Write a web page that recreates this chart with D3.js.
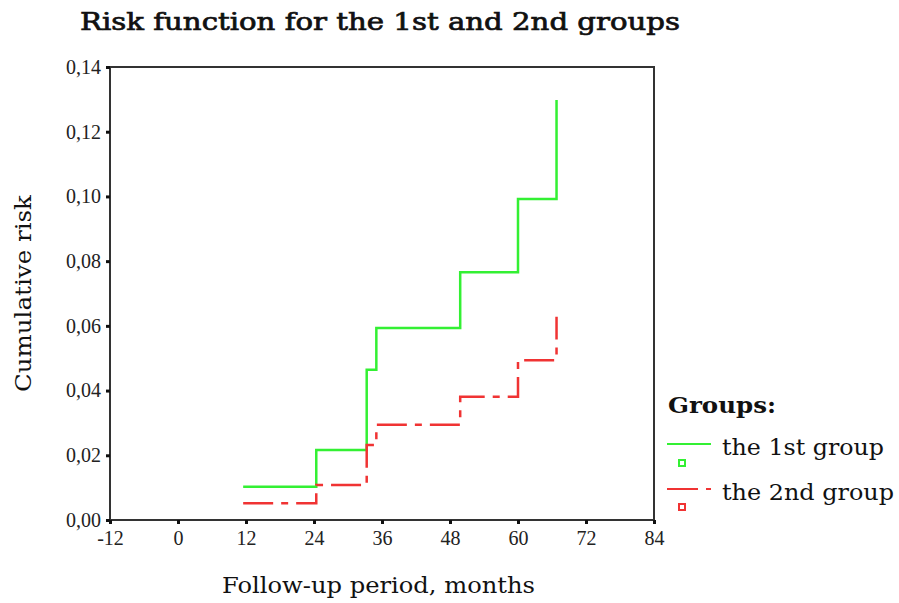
<!DOCTYPE html>
<html>
<head>
<meta charset="utf-8">
<script src="https://cdn.jsdelivr.net/npm/d3@7"></script>
<style>
  body { margin: 0; background: #fff; }
  svg { display: block; }
</style>
</head>
<body>
<svg id="chart" width="899" height="603"></svg>
<script>
// Data
const group1Times = [11.5, 24.4, 33.3, 35, 49.8, 60, 66.8];
const group1Risk  = [0.0103, 0.0216, 0.0464, 0.0593, 0.0766, 0.0992, 0.1298];
const group2Times = [11.5, 24.4, 33.3, 35, 49.8, 60, 66.8];
const group2Risk  = [0.0052, 0.0108, 0.0232, 0.0294, 0.0381, 0.0494, 0.0628];
const xTicks = [-12, 0, 12, 24, 36, 48, 60, 72, 84];
const yTicks = [0, 0.02, 0.04, 0.06, 0.08, 0.10, 0.12, 0.14];
const seriesNames = ["the 1st group", "the 2nd group"];
const seriesColors = ["#33f033", "#f03333"];

const svg = d3.select("#chart");
const pLeft = 110, pRight = 654, pTop = 67, pBottom = 520;

const x = d3.scaleLinear().domain([-12, 84]).range([pLeft, pRight]);
const y = d3.scaleLinear().domain([0, 0.14]).range([pBottom, pTop]);

const serif = "'DejaVu Serif', serif";
const tickFont = "'Liberation Serif', serif";

// Title
svg.append("text").attr("x", 80).attr("y", 30)
  .attr("font-family", serif).attr("font-size", 24)
  .attr("fill", "#111").attr("stroke", "#111").attr("stroke-width", 0.7)
  .attr("textLength", 600).attr("lengthAdjust", "spacingAndGlyphs")
  .text("Risk function for the 1st and 2nd groups");

// Frame
svg.append("path")
  .attr("d", `M${pLeft},${pBottom}V${pTop}H${pRight}V${pBottom}H${pLeft}`)
  .attr("fill", "none").attr("stroke", "#333").attr("stroke-width", 2);

// Axes
const xAxis = d3.axisBottom(x).tickValues(xTicks).tickSize(4).tickPadding(7)
  .tickFormat(d => String(d));
const gx = svg.append("g").attr("transform", `translate(0,${pBottom})`).call(xAxis);
gx.select(".domain").remove();
gx.selectAll(".tick line").attr("stroke", "#111").attr("stroke-width", 3);
gx.selectAll(".tick text").attr("font-family", tickFont).attr("font-size", 20)
  .attr("fill", "#222");

const yAxis = d3.axisLeft(y).tickValues(yTicks).tickSize(4).tickPadding(5)
  .tickFormat(d => d3.format(".2f")(d).replace(".", ","));
const gy = svg.append("g").attr("transform", `translate(${pLeft},0)`).call(yAxis);
gy.select(".domain").remove();
gy.selectAll(".tick line").attr("stroke", "#111").attr("stroke-width", 3);
gy.selectAll(".tick text").attr("font-family", tickFont).attr("font-size", 20)
  .attr("fill", "#222");

// Axis labels
svg.append("text").attr("x", 222).attr("y", 593)
  .attr("font-family", serif).attr("font-size", 22).attr("fill", "#111")
  .attr("textLength", 313).attr("lengthAdjust", "spacingAndGlyphs")
  .text("Follow-up period, months");
svg.append("text").attr("transform", "translate(31,392) rotate(-90)")
  .attr("font-family", serif).attr("font-size", 22).attr("fill", "#111")
  .attr("textLength", 197).attr("lengthAdjust", "spacingAndGlyphs")
  .text("Cumulative risk");

// Lines
const line = d3.line().x(d => x(d[0])).y(d => y(d[1])).curve(d3.curveStepAfter);
const s1 = group1Times.map((t, i) => [t, group1Risk[i]]);
const s2 = group2Times.map((t, i) => [t, group2Risk[i]]);

svg.append("path").datum(s1).attr("d", line)
  .attr("fill", "none").attr("stroke", seriesColors[0]).attr("stroke-width", 2.5);
svg.append("path").datum(s2).attr("d", line)
  .attr("fill", "none").attr("stroke", seriesColors[1]).attr("stroke-width", 2.5)
  .attr("stroke-dasharray", "30,8,7,8");

// Legend
svg.append("text").attr("x", 668).attr("y", 413)
  .attr("font-family", serif).attr("font-size", 22).attr("font-weight", "bold")
  .attr("fill", "#111")
  .attr("textLength", 108).attr("lengthAdjust", "spacingAndGlyphs")
  .text("Groups:");

const legY = [444, 489];
const sqY = [463, 507];
seriesNames.forEach((name, i) => {
  svg.append("line").attr("x1", 667).attr("x2", 711).attr("y1", legY[i]).attr("y2", legY[i])
    .attr("stroke", seriesColors[i]).attr("stroke-width", 2)
    .attr("stroke-dasharray", i === 1 ? "31,8,5,8" : null);
  svg.append("rect").attr("x", 679).attr("y", sqY[i] - 3).attr("width", 6).attr("height", 6)
    .attr("fill", "none").attr("stroke", seriesColors[i]).attr("stroke-width", 2);
  svg.append("text").attr("x", 722).attr("y", legY[i] + 11)
    .attr("font-family", serif).attr("font-size", 22).attr("fill", "#111")
    .attr("textLength", i === 0 ? 162 : 172).attr("lengthAdjust", "spacingAndGlyphs")
    .text(name);
});
</script>
</body>
</html>
